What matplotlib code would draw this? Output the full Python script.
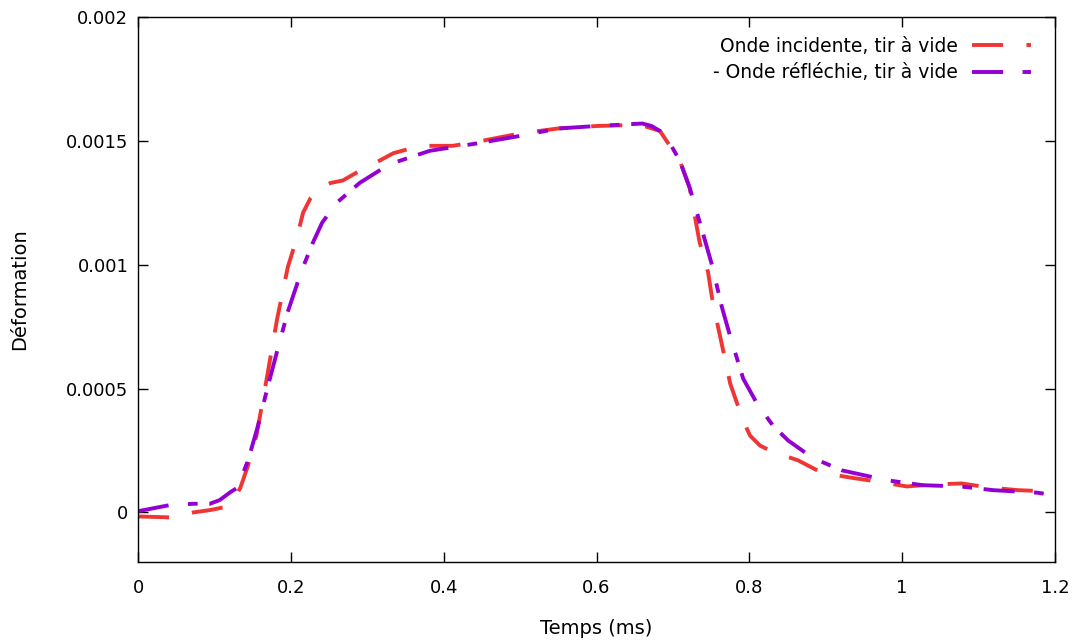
import matplotlib
matplotlib.use("Agg")
import matplotlib.pyplot as plt

# Incident wave (red)
t_inc = [0, 0.042, 0.072, 0.095, 0.111, 0.125, 0.134, 0.144, 0.155, 0.169, 0.182,
         0.196, 0.208, 0.216, 0.226, 0.238, 0.252, 0.268, 0.285, 0.304, 0.334, 0.369,
         0.412, 0.45, 0.5, 0.55, 0.6, 0.657, 0.683, 0.709, 0.722, 0.729, 0.735, 0.746,
         0.751, 0.759, 0.766, 0.775, 0.784, 0.792, 0.801, 0.814, 0.827, 0.845, 0.864,
         0.895, 0.934, 0.967, 1.006, 1.04, 1.078, 1.115, 1.152, 1.19, 1.2]
e_inc = [-0.000016, -0.00002, 0.0, 0.00001, 0.00002, 0.00005, 0.0001, 0.00019, 0.00031,
         0.00055, 0.00078, 0.00099, 0.00111, 0.00121, 0.00127, 0.00131, 0.00133, 0.00134,
         0.00137, 0.0014, 0.00145, 0.00148, 0.00148, 0.0015, 0.00153, 0.00155, 0.00156,
         0.001565, 0.00154, 0.00142, 0.00131, 0.00119, 0.00109, 0.00097, 0.00087, 0.00075,
         0.00065, 0.00052, 0.00044, 0.00037, 0.00031, 0.00027, 0.00025, 0.00023, 0.00021,
         0.00016, 0.00014, 0.000125, 0.000105, 0.000113, 0.000117, 0.0001, 0.00009,
         0.000085, 0.00008]

# Reflected wave (purple)
t_ref = [0, 0.042, 0.072, 0.094, 0.107, 0.12, 0.13, 0.144, 0.157, 0.17, 0.182, 0.196,
         0.208, 0.212, 0.229, 0.241, 0.26, 0.29, 0.326, 0.343, 0.382, 0.444, 0.5, 0.55,
         0.6, 0.66, 0.672, 0.683, 0.696, 0.709, 0.722, 0.739, 0.751, 0.764, 0.775, 0.792,
         0.81, 0.831, 0.851, 0.883, 0.921, 0.98, 1.027, 1.076, 1.119, 1.176, 1.2]
e_ref = [0.000005, 0.00003, 0.000035, 0.000035, 0.00005, 0.00008, 0.0001, 0.00021, 0.00035,
         0.00051, 0.00065, 0.00081, 0.00092, 0.00096, 0.00109, 0.00117, 0.00125, 0.00133,
         0.0014, 0.00142, 0.00146, 0.00149, 0.00152, 0.00155, 0.00156, 0.00157, 0.00156,
         0.00154, 0.00149, 0.00142, 0.00131, 0.00113, 0.001, 0.00083, 0.00071, 0.00054,
         0.00044, 0.00035, 0.00029, 0.00022, 0.00017, 0.00013, 0.00011, 0.000105, 0.00009,
         0.00008, 0.00007]

labels = ["Onde incidente, tir à vide", "- Onde réfléchie, tir à vide"]
xticks = [0, 0.2, 0.4, 0.6, 0.8, 1, 1.2]
xticklabels = ["0", "0.2", "0.4", "0.6", "0.8", "1", "1.2"]
yticks = [0, 0.0005, 0.001, 0.0015, 0.002]
yticklabels = ["0", "0.0005", "0.001", "0.0015", "0.002"]

plt.rcParams['font.family'] = ['DejaVu Sans']
fig = plt.figure(figsize=(10.78, 6.42), dpi=100)
ax = fig.add_axes([138/1078, 1 - 562/642, (1055-138)/1078, (562-17)/642])

ax.plot(t_inc, e_inc, color='#f03535', lw=2.8, linestyle=(0, (8, 6)), label=labels[0])
ax.plot(t_ref, e_ref, color='#9400d3', lw=2.8, linestyle=(0, (8, 5, 2.5, 3)), label=labels[1])

ax.set_xlim(0, 1.2)
ax.set_ylim(-0.0002, 0.002)
ax.set_xticks(xticks)
ax.set_xticklabels(xticklabels)
ax.set_yticks(yticks)
ax.set_yticklabels(yticklabels)
ax.tick_params(direction='in', length=7, width=1, top=True, right=True, labelsize=13)
ax.tick_params(axis='x', pad=12)
ax.tick_params(axis='y', pad=7)
for s in ax.spines.values():
    s.set_linewidth(1)
ax.set_xlabel("Temps (ms)", fontsize=14)
ax.set_ylabel("Déformation", fontsize=14)
ax.xaxis.set_label_coords(0.5, (562 - 619) / 545)
ax.yaxis.set_label_coords((29 - 138) / 917, 0.5)

leg = ax.legend(loc='upper right', markerfirst=False, frameon=False, fontsize=13.5,
                handlelength=3.1, handletextpad=0.75, labelspacing=0.42,
                borderaxespad=0, bbox_to_anchor=((1038 - 138) / 917, (562 - 29) / 545))

fig.savefig("out.png", dpi=100)
